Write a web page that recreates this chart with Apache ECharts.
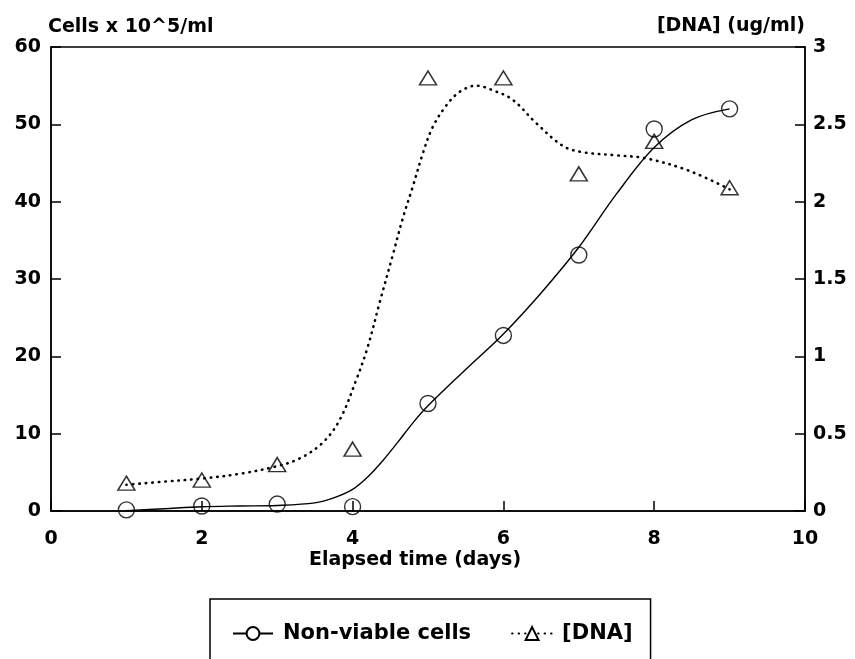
<!DOCTYPE html>
<html>
<head>
<meta charset="utf-8">
<script src="https://cdn.jsdelivr.net/npm/echarts@6/dist/echarts.min.js"></script>
<style>
  html, body { margin: 0; padding: 0; background: #fff; }
  #chart { width: 855px; height: 659px; }
</style>
</head>
<body>
<div id="chart"></div>
<script>
// measured points (x = elapsed days)
const cellsPoints = [[1, 0.15], [2, 0.65], [3, 0.9], [4, 0.56], [5, 13.9], [6, 22.7], [7, 33.1], [8, 49.4], [9, 52.0]]
const dnaPoints = [[1, 0.18], [2, 0.2], [3, 0.3], [4, 0.4], [5, 2.8], [6, 2.8], [7, 2.18], [8, 2.39], [9, 2.09]]

// fitted curves
const cellsFit = [
  [1.0, 0.05], [1.5, 0.3], [2.0, 0.55], [2.5, 0.65], [3.0, 0.72], [3.5, 1.05], [3.75, 1.7],
  [4.0, 2.8], [4.2, 4.4], [4.4, 6.5], [4.6, 8.9], [4.8, 11.4], [5.0, 13.6], [5.5, 18.3],
  [6.0, 22.9], [6.5, 28.2], [7.0, 34.1], [7.5, 41.0], [8.0, 47.0], [8.5, 50.6], [9.0, 52.0]
]
const dnaFit = [
  [1.0, 0.17], [1.5, 0.19], [2.0, 0.21], [2.5, 0.24], [3.0, 0.29], [3.3, 0.34], [3.6, 0.44],
  [3.83, 0.59], [4.05, 0.85], [4.2, 1.06], [4.36, 1.35], [4.53, 1.65], [4.67, 1.9], [4.8, 2.1],
  [4.93, 2.31], [5.06, 2.48], [5.24, 2.62], [5.42, 2.71], [5.64, 2.75], [5.86, 2.72], [6.12, 2.66],
  [6.43, 2.51], [6.79, 2.36], [7.05, 2.32], [7.49, 2.3], [7.89, 2.28], [8.46, 2.2], [9.0, 2.08]
]

const seriesNames = ['Non-viable cells', '[DNA]']

const font = 'DejaVu Sans'
const black = '#000'

const myChart = echarts.init(document.getElementById('chart'))

const axisCommon = {
  axisLine: { show: true, lineStyle: { color: black, width: 1.5 } },
  axisTick: { show: true, inside: true, length: 10, lineStyle: { color: black, width: 1.5 } },
  splitLine: { show: false },
  axisLabel: { color: black, fontFamily: font, fontWeight: 'bold', fontSize: 19 }
}

const option = {
  backgroundColor: '#fff',
  animation: false,
  grid: {
    left: 51, right: 50, top: 47, bottom: 148,
    show: true, borderColor: black, borderWidth: 1.5, backgroundColor: 'transparent'
  },
  legend: {
    data: seriesNames,
    left: 210,
    top: 599,
    orient: 'horizontal',
    itemWidth: 40,
    itemHeight: 16,
    itemGap: 40,
    padding: [24, 18, 60, 22],
    borderColor: black,
    borderWidth: 1.5,
    textStyle: { color: black, fontFamily: font, fontWeight: 'bold', fontSize: 21, padding: [0, 0, 0, 5] }
  },
  xAxis: {
    type: 'value',
    min: 0, max: 10, interval: 2,
    name: 'Elapsed time (days)',
    nameLocation: 'middle',
    nameGap: 40,
    nameMoveOverlap: false,
    nameTextStyle: { color: black, fontFamily: font, fontWeight: 'bold', fontSize: 19, padding: [0, 26, 0, 0] },
    ...axisCommon,
    axisLabel: { ...axisCommon.axisLabel, margin: 19 }
  },
  yAxis: [
    {
      type: 'value',
      min: 0, max: 60, interval: 10,
      name: 'Cells x 10^5/ml',
      nameLocation: 'end',
      nameGap: 20,
      nameTextStyle: { color: black, fontFamily: font, fontWeight: 'bold', fontSize: 19, align: 'left', verticalAlign: 'middle', padding: [0, 0, 0, -3] },
      ...axisCommon,
      axisLabel: { ...axisCommon.axisLabel, margin: 10 }
    },
    {
      type: 'value',
      position: 'right',
      min: 0, max: 3, interval: 0.5,
      name: '[DNA] (ug/ml)',
      nameLocation: 'end',
      nameGap: 21,
      nameTextStyle: { color: black, fontFamily: font, fontWeight: 'bold', fontSize: 19, align: 'right', verticalAlign: 'middle' },
      ...axisCommon,
      axisLabel: { ...axisCommon.axisLabel, margin: 8 }
    }
  ],
  series: [
    {
      name: seriesNames[0],
      type: 'line',
      yAxisIndex: 0,
      data: cellsFit,
      smooth: 0.35,
      symbol: 'emptyCircle',
      showSymbol: false,
      lineStyle: { color: black, width: 1.4 },
      itemStyle: { color: black },
      z: 2
    },
    {
      name: seriesNames[1],
      type: 'line',
      yAxisIndex: 1,
      data: dnaFit,
      smooth: 0.35,
      symbol: 'emptyTriangle',
      showSymbol: false,
      lineStyle: { color: black, width: 2.6, type: [0.5, 6], cap: 'round' },
      itemStyle: { color: black },
      z: 2
    },
    {
      name: seriesNames[0],
      type: 'scatter',
      yAxisIndex: 0,
      data: cellsPoints,
      symbol: 'circle',
      symbolSize: 16,
      itemStyle: { color: 'transparent', borderColor: black, borderWidth: 1.4 },
      z: 3
    },
    {
      name: seriesNames[1],
      type: 'scatter',
      yAxisIndex: 1,
      data: dnaPoints,
      symbol: 'triangle',
      symbolSize: [17, 14],
      itemStyle: { color: 'transparent', borderColor: black, borderWidth: 1.5 },
      z: 3
    }
  ]
}

myChart.setOption(option)
window.addEventListener('resize', () => {
  myChart.resize()
})
</script>
</body>
</html>
